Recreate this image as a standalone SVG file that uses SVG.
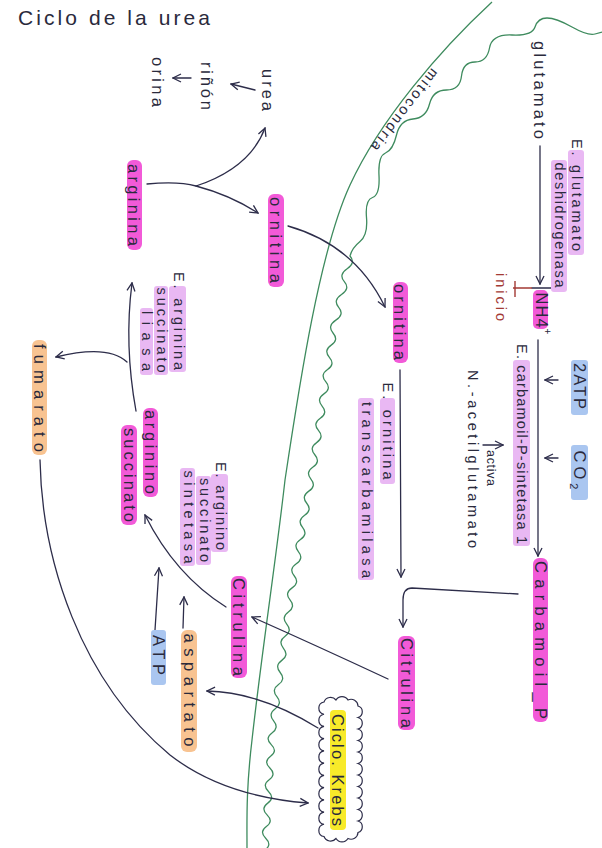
<svg xmlns="http://www.w3.org/2000/svg" width="602" height="848" viewBox="0 0 602 848">
<defs>
<style>
.t{font-family:"Liberation Sans",Arial,sans-serif;font-size:16.5px;fill:#2a2a3c;text-anchor:middle;dominant-baseline:central}
.s{font-size:14.5px}
.hm{fill:#f25ad8}
.hv{fill:#e9b8f3}
.hb{fill:#aac6f0}
.ho{fill:#f8c391}
.hy{fill:#f8ea2a}
.c{fill:none;stroke:#2d2d4a;stroke-width:1.3;stroke-linecap:round;stroke-linejoin:round}
.g{fill:none;stroke:#3e8b5e;stroke-width:1.3}
</style>
<marker id="ah" viewBox="0 0 10 10" refX="9" refY="5" markerWidth="10" markerHeight="10" markerUnits="userSpaceOnUse" orient="auto">
<path d="M1,1 L9,5 L1,9" fill="none" stroke="#2d2d4a" stroke-width="1.3"/>
</marker>
</defs>
<rect width="602" height="848" fill="#ffffff"/>

<text x="18" y="25" style="font-family:'Liberation Sans',Arial,sans-serif;font-size:21px;fill:#2a2a3c" textLength="192" lengthAdjust="spacing">Ciclo de la urea</text>

<g id="membranes">
<path class="g" d="M492,2 C440,50 380,120 350,185 C320,250 300,380 285,480 C276,560 262,650 252,740 C246,790 247,820 247,848"/>
<path class="g" d="M602,32 L595,34 Q588,36 572,27 Q556,18 547,18 Q538,18 535,27 Q532,36 512,35 Q492,34 489.5,48 Q487,62 475,62 Q463,62 461.5,76 Q460,90 446.5,90 Q433,90 429.5,104 Q426,118 413,119 Q400,120 396.5,135 Q393,150 385.5,153 Q378,156 379,175.5 Q380,195 372.5,197.5 Q365,200 366.5,217.5 Q368,235 360,241.5 Q352,248 350,256 q6,7 -2.83,12.83 t-2.83,12.83 t-2.83,12.83 t-2.83,12.83 t-2.83,12.83 t-2.83,12.83 t-1.82,12.18 t-1.82,12.18 t-1.82,12.18 t-1.82,12.18 t-1.82,12.18 t-1.82,12.18 t-1.82,12.18 t-1.82,12.18 t-1.82,12.18 t-1.82,12.18 t-1.82,12.18 t-2.09,12.09 t-2.09,12.09 t-2.09,12.09 t-2.09,12.09 t-2.09,12.09 t-2.09,12.09 t-2.09,12.09 t-2.09,12.09 t-2.09,12.09 t-2.09,12.09 t-2.09,12.09 t-1.64,12.09 t-1.64,12.09 t-1.64,12.09 t-1.64,12.09 t-1.64,12.09 t-1.64,12.09 t-1.64,12.09 t-1.64,12.09 t-1.64,12.09 t-1.64,12.09 t-1.64,12.09 t-0.7,11.7 t-0.7,11.7 t-0.7,11.7 t-0.7,11.7 t-0.7,11.7 t-0.7,11.7 t-0.7,11.7 t-0.7,11.7 t-0.7,11.7 t-0.7,11.7"/>
<text class="t s" transform="translate(405,110) rotate(128)" textLength="100" lengthAdjust="spacing">mitocondria</text>
</g>

<g id="connectors">
<path class="c" d="M147,184 Q178,181 196,186 Q250,168 265,128" marker-end="url(#ah)"/>
<path class="c" d="M196,186 Q230,195 258,213" marker-end="url(#ah)"/>
<path class="c" d="M255,90 L231,84" marker-end="url(#ah)"/>
<path class="c" d="M191,78 L173,78" marker-end="url(#ah)"/>
<path class="c" d="M288,226 Q355,245 385,307" marker-end="url(#ah)"/>
<path class="c" d="M540,146 L540,284" marker-end="url(#ah)"/>
<path class="c" d="M532,288 L551,288"/>
<path d="M513,288 L532,288 M515,281 L515,297" fill="none" stroke="#a33a35" stroke-width="1.4"/>
<path class="c" d="M538,340 L538,556" marker-end="url(#ah)"/>
<path class="c" d="M558,380 L545,380" marker-end="url(#ah)"/>
<path class="c" d="M558,458 L545,458" marker-end="url(#ah)"/>
<path class="c" d="M483,445 L503,445" marker-end="url(#ah)"/>
<path class="c" d="M518,594 L412,588 Q403,588 403,600 L403,627" marker-end="url(#ah)"/>
<path class="c" d="M400,370 L401,577" marker-end="url(#ah)"/>
<path class="c" d="M388,679 Q315,645 252,617" marker-end="url(#ah)"/>
<path class="c" d="M226,607 Q175,575 145,515" marker-end="url(#ah)"/>
<path class="c" d="M183,628 L184,597" marker-end="url(#ah)"/>
<path class="c" d="M155,630 L159,568" marker-end="url(#ah)"/>
<path class="c" d="M318,728 Q260,692 207,691" marker-end="url(#ah)"/>
<path class="c" d="M136,411 Q124,345 132,283" marker-end="url(#ah)"/>
<path class="c" d="M127,362 Q108,344 56,357" marker-end="url(#ah)"/>
<path class="c" d="M40,460 C42,560 80,680 170,755 C215,790 270,800 308,803" marker-end="url(#ah)"/>
</g>

<g id="urea"><text class="t" transform="translate(268,90) rotate(90)" textLength="42" lengthAdjust="spacing">urea</text></g>
<g id="rinon"><text class="t" transform="translate(207,86) rotate(90)" textLength="48" lengthAdjust="spacing">riñón</text></g>
<g id="orina"><text class="t" transform="translate(158,82) rotate(90)" textLength="50" lengthAdjust="spacing">orina</text></g>

<g id="arginina"><rect class="hm" x="127" y="160" width="15" height="90" rx="6"/><text class="t" transform="translate(134,205) rotate(90)" textLength="82" lengthAdjust="spacing">arginina</text></g>
<g id="ornitina-cit"><rect class="hm" x="268" y="194" width="16" height="93" rx="6"/><text class="t" transform="translate(276,240) rotate(90)" textLength="86" lengthAdjust="spacing">ornitina</text></g>
<g id="ornitina-mit"><rect class="hm" x="393" y="282" width="15" height="81" rx="6"/><text class="t" transform="translate(400,322) rotate(90)" textLength="76" lengthAdjust="spacing">ornitina</text></g>

<g id="glutamato"><text class="t" transform="translate(540,90) rotate(90)" textLength="98" lengthAdjust="spacing">glutamato</text></g>
<g id="e-glutamato">
<rect class="hv" x="568" y="150" width="16" height="105" rx="3"/>
<rect class="hv" x="551" y="160" width="16" height="132" rx="3"/>
<text class="t s" transform="translate(577,195) rotate(90)" textLength="112" lengthAdjust="spacing">E. glutamato</text>
<text class="t s" transform="translate(560,225) rotate(90)" textLength="125" lengthAdjust="spacing">deshidrogenasa</text>
</g>
<g id="inicio"><text class="t s" transform="translate(501,297) rotate(90)" style="fill:#a33a35" textLength="48" lengthAdjust="spacing">inicio</text></g>
<g id="nh4"><rect class="hm" x="533" y="290" width="15" height="39" rx="5"/><text class="t" transform="translate(542,314) rotate(90)" style="letter-spacing:1px">NH4<tspan baseline-shift="super" font-size="10">+</tspan></text></g>
<g id="atp2"><rect class="hb" x="571" y="360" width="17" height="55" rx="3"/><text class="t" transform="translate(580,387) rotate(90)" style="letter-spacing:2px">2ATP</text></g>
<g id="co2"><rect class="hb" x="571" y="445" width="17" height="55" rx="3"/><text class="t" transform="translate(580,472) rotate(90)" style="letter-spacing:4px">CO<tspan baseline-shift="sub" font-size="11">2</tspan></text></g>
<g id="e-carbamoil"><rect class="hv" x="513" y="360" width="17" height="186" rx="3"/><text class="t s" transform="translate(522,444) rotate(90)" textLength="200" lengthAdjust="spacing">E. carbamoil-P-sintetasa 1</text></g>
<g id="activa"><text class="t" transform="translate(491,468) rotate(90)" style="font-size:12.5px" textLength="36" lengthAdjust="spacing">activa</text></g>
<g id="nacetil"><text class="t s" transform="translate(473,459) rotate(90)" textLength="178" lengthAdjust="spacing">N.-acetilglutamato</text></g>
<g id="carbamoil"><rect class="hm" x="533" y="558" width="15" height="164" rx="6"/><text class="t" transform="translate(541,640) rotate(90)" textLength="158" lengthAdjust="spacing">Carbamoil_P</text></g>
<g id="citrulina-mit"><rect class="hm" x="398" y="636" width="17" height="94" rx="6"/><text class="t" transform="translate(407,683) rotate(90)" textLength="90" lengthAdjust="spacing">Citrulina</text></g>
<g id="e-ornitina">
<rect class="hv" x="380" y="398" width="15" height="86" rx="3"/>
<rect class="hv" x="358" y="398" width="16" height="182" rx="3"/>
<text class="t s" transform="translate(388,431) rotate(90)" textLength="97" lengthAdjust="spacing">E. ornitina</text>
<text class="t s" transform="translate(367,490) rotate(90)" textLength="176" lengthAdjust="spacing">transcarbamilasa</text>
</g>
<g id="citrulina-cit"><rect class="hm" x="231" y="576" width="16" height="102" rx="6"/><text class="t" transform="translate(239,627) rotate(90)" textLength="98" lengthAdjust="spacing">Citrulina</text></g>
<g id="e-as-sintetasa">
<rect class="hv" x="211" y="474" width="17" height="78" rx="3"/>
<rect class="hv" x="196" y="476" width="15" height="89" rx="3"/>
<rect class="hv" x="180" y="468" width="15" height="98" rx="3"/>
<text class="t s" transform="translate(221,506) rotate(90)" textLength="88" lengthAdjust="spacing">E. arginino</text>
<text class="t s" transform="translate(205,520) rotate(90)" textLength="84" lengthAdjust="spacing">succinato</text>
<text class="t s" transform="translate(189,517) rotate(90)" textLength="93" lengthAdjust="spacing">sintetasa</text>
</g>
<g id="argininosuccinato">
<rect class="hm" x="143" y="408" width="15" height="89" rx="6"/>
<rect class="hm" x="121" y="425" width="16" height="100" rx="6"/>
<text class="t" transform="translate(151,452) rotate(90)" textLength="84" lengthAdjust="spacing">arginino</text>
<text class="t" transform="translate(130,475) rotate(90)" textLength="94" lengthAdjust="spacing">succinato</text>
</g>
<g id="e-as-liasa">
<rect class="hv" x="169" y="286" width="17" height="86" rx="3"/>
<rect class="hv" x="154" y="286" width="14" height="89" rx="3"/>
<rect class="hv" x="140" y="308" width="13" height="67" rx="3"/>
<text class="t s" transform="translate(179,321) rotate(90)" textLength="98" lengthAdjust="spacing">E. arginina</text>
<text class="t s" transform="translate(162,330) rotate(90)" textLength="85" lengthAdjust="spacing">succinato</text>
<text class="t s" transform="translate(147,341) rotate(90)" textLength="60" lengthAdjust="spacing">liasa</text>
</g>
<g id="fumarato"><rect class="ho" x="32" y="340" width="15" height="115" rx="6"/><text class="t" transform="translate(40,398) rotate(90)" textLength="108" lengthAdjust="spacing">fumarato</text></g>
<g id="atp"><rect class="hb" x="151" y="630" width="15" height="55" rx="3"/><text class="t" transform="translate(159,655) rotate(90)" textLength="40" lengthAdjust="spacing">ATP</text></g>
<g id="aspartato"><rect class="ho" x="181" y="630" width="16" height="122" rx="6"/><text class="t" transform="translate(190,690) rotate(90)" textLength="113" lengthAdjust="spacing">aspartato</text></g>
<g id="krebs">
<path d="M324,702 a7,7 0 0 1 12,-2 a7,7 0 0 1 12,0 a7,7 0 0 1 10,6 a6,6 0 0 1 0,11.5 a6,6 0 0 1 0,11.5 a6,6 0 0 1 0,11.5 a6,6 0 0 1 0,11.5 a6,6 0 0 1 0,11.5 a6,6 0 0 1 0,11.5 a6,6 0 0 1 0,11.5 a6,6 0 0 1 0,11.5 a6,6 0 0 1 0,11.5 a6,6 0 0 1 0,11.5 a6,6 0 0 1 0,11.5 a7,7 0 0 1 -10,6 a7,7 0 0 1 -12,0 a7,7 0 0 1 -12,-2 a6.2,6.2 0 0 1 0,-12.227 a6.2,6.2 0 0 1 0,-12.227 a6.2,6.2 0 0 1 0,-12.227 a6.2,6.2 0 0 1 0,-12.227 a6.2,6.2 0 0 1 0,-12.227 a6.2,6.2 0 0 1 0,-12.227 a6.2,6.2 0 0 1 0,-12.227 a6.2,6.2 0 0 1 0,-12.227 a6.2,6.2 0 0 1 0,-12.227 a6.2,6.2 0 0 1 0,-12.227 a6.2,6.2 0 0 1 0,-12.227 Z" fill="#ffffff" stroke="#2d2d4a" stroke-width="1.2"/>
<rect class="hy" x="330" y="710" width="16" height="120" rx="4"/>
<text class="t" transform="translate(338,770) rotate(90)" textLength="112" lengthAdjust="spacing">Ciclo. Krebs</text>
</g>
</svg>
